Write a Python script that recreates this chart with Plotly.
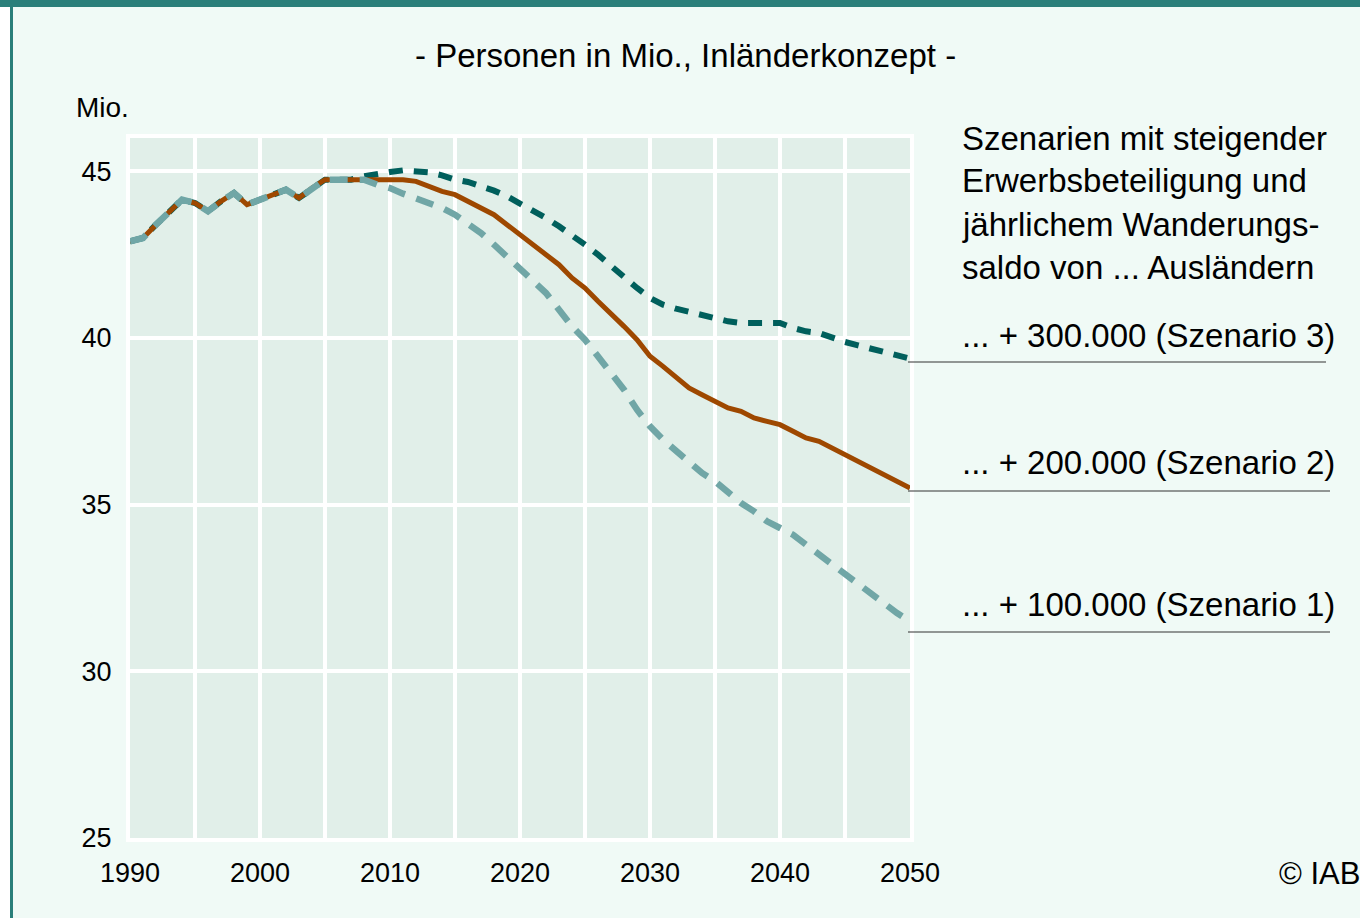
import plotly.graph_objects as go

years = list(range(1990, 2051))

history = [42.9, 43.0, 43.4, 43.75, 44.15, 44.05, 43.8, 44.1, 44.35, 44.0,
           44.15, 44.3, 44.45, 44.2, 44.5, 44.75, 44.75, 44.75]  # 1990-2007

s2_future = [44.75, 44.75, 44.75, 44.75, 44.7, 44.55, 44.4, 44.3, 44.1, 43.9,
             43.7, 43.4, 43.1, 42.8, 42.5, 42.2, 41.8, 41.5, 41.1, 40.75,
             40.35, 39.95, 39.45, 39.15, 38.8, 38.5, 38.3, 38.1, 37.9, 37.8,
             37.6, 37.5, 37.4, 37.2, 37.0, 36.9, 36.7, 36.5, 36.3, 36.1,
             35.9, 35.7, 35.5]  # 2008-2050

s3_future = [44.85, 44.93, 44.98, 45.03, 45.0, 44.97, 44.88, 44.75, 44.68, 44.56,
             44.42, 44.25, 44.05, 43.82, 43.6, 43.35, 43.1, 42.8, 42.5, 42.15,
             41.8, 41.5, 41.2, 41.0, 40.88, 40.78, 40.68, 40.6, 40.5, 40.45,
             40.45, 40.45, 40.45, 40.3, 40.2, 40.15, 40.0, 39.88, 39.78, 39.68,
             39.58, 39.45, 39.38]

s1_future = [44.75, 44.6, 44.5, 44.33, 44.2, 44.08, 43.9, 43.7, 43.45, 43.15,
             42.8, 42.45, 42.05, 41.7, 41.35, 40.85, 40.35, 39.95, 39.45, 39.0,
             38.45, 37.85, 37.35, 36.95, 36.6, 36.3, 35.95, 35.7, 35.35, 35.05,
             34.8, 34.5, 34.3, 34.1, 33.8, 33.5, 33.2, 32.95, 32.6, 32.3,
             32.0, 31.75, 31.5]

szenario1 = history + s1_future
szenario2 = history + s2_future
szenario3 = history + s3_future

x_tickvals = list(range(1990, 2051, 5))
x_ticktext = ["1990", "", "2000", "", "2010", "", "2020", "", "2030", "", "2040", "", "2050"]
y_tickvals = [25, 30, 35, 40, 45]

title_text = "- Personen in Mio., Inländerkonzept -"
unit_text = "Mio."
header_lines = ["Szenarien mit steigender", "Erwerbsbeteiligung und",
                "jährlichem Wanderungs-", "saldo von ... Ausländern"]
label_texts = ["... + 300.000 (Szenario 3)", "... + 200.000 (Szenario 2)",
               "... + 100.000 (Szenario 1)"]
credit_text = "© IAB"

FONT = "Liberation Sans, Arial, sans-serif"

fig = go.Figure()
fig.add_trace(go.Scatter(x=years, y=szenario3, mode="lines", name="Szenario 3",
                         line=dict(color="#005f5c", width=6, dash="14px,11px")))
fig.add_trace(go.Scatter(x=years, y=szenario2, mode="lines", name="Szenario 2",
                         line=dict(color="#9e4800", width=5)))
fig.add_trace(go.Scatter(x=years, y=szenario1, mode="lines", name="Szenario 1",
                         line=dict(color="#70a6a6", width=6.5, dash="18px,12px")))

# paper-coordinate helpers (plot area: x 130..910 px, y 138..838 px)
def px(xp):
    return (xp - 130) / 780.0

def py(yp):
    return (838 - yp) / 700.0

annotations = [
    dict(text=title_text, x=px(685), y=py(55), xref="paper", yref="paper",
         showarrow=False, xanchor="center", yanchor="middle",
         font=dict(size=33, color="#000", family=FONT)),
    dict(text=unit_text, x=px(74), y=py(107), xref="paper", yref="paper",
         showarrow=False, xanchor="left", yanchor="middle",
         font=dict(size=28, color="#000", family=FONT)),
    dict(text=credit_text, x=px(1277), y=py(873), xref="paper", yref="paper",
         showarrow=False, xanchor="left", yanchor="middle",
         font=dict(size=31, color="#000", family=FONT)),
]
for i, line in enumerate(header_lines):
    annotations.append(dict(text=line, x=px(960), y=py(138 + 43 * i), xref="paper", yref="paper",
                            showarrow=False, xanchor="left", yanchor="middle",
                            font=dict(size=33, color="#000", family=FONT)))
for txt, yp in zip(label_texts, [335, 462, 604]):
    annotations.append(dict(text=txt, x=px(960), y=py(yp), xref="paper", yref="paper",
                            showarrow=False, xanchor="left", yanchor="middle",
                            font=dict(size=33, color="#000", family=FONT)))

shapes = []
for yp, xe in zip([362, 491, 632], [1326, 1330, 1330]):
    shapes.append(dict(type="line", xref="paper", yref="paper",
                       x0=px(908), x1=px(xe), y0=py(yp), y1=py(yp),
                       line=dict(color="#333333", width=1.2)))
# frame
shapes.append(dict(type="rect", xref="paper", yref="paper", x0=px(-5), x1=px(1370),
                   y0=py(7), y1=py(-5), fillcolor="#2a7f7a", line=dict(width=0), layer="above"))
shapes.append(dict(type="rect", xref="paper", yref="paper", x0=px(-5), x1=px(10),
                   y0=py(925), y1=py(7), fillcolor="#ffffff", line=dict(width=0), layer="above"))
shapes.append(dict(type="rect", xref="paper", yref="paper", x0=px(10), x1=px(13),
                   y0=py(925), y1=py(7), fillcolor="#2a7f7a", line=dict(width=0), layer="above"))

fig.update_layout(
    width=1360, height=918, autosize=False,
    margin=dict(l=130, r=450, t=138, b=80),
    paper_bgcolor="#f0faf6", plot_bgcolor="#e1efe9",
    showlegend=False,
    annotations=annotations, shapes=shapes,
    font=dict(family=FONT, color="#000"),
)
fig.update_xaxes(range=[1990, 2050], tickvals=x_tickvals, ticktext=x_ticktext,
                 showgrid=True, gridcolor="#ffffff", gridwidth=4,
                 showline=True, linecolor="#ffffff", linewidth=4, mirror=True,
                 zeroline=False, ticks="", ticklabelstandoff=8,
                 tickfont=dict(size=27, color="#000", family=FONT))
fig.update_yaxes(range=[25, 46], tickvals=y_tickvals,
                 showgrid=True, gridcolor="#ffffff", gridwidth=4,
                 showline=True, linecolor="#ffffff", linewidth=4, mirror=True,
                 zeroline=False, ticks="", ticklabelstandoff=9,
                 tickfont=dict(size=27, color="#000", family=FONT))

fig.write_html("out.html", config={"displayModeBar": False},
               post_script="document.body.style.margin='0';document.body.style.overflow='hidden';")
